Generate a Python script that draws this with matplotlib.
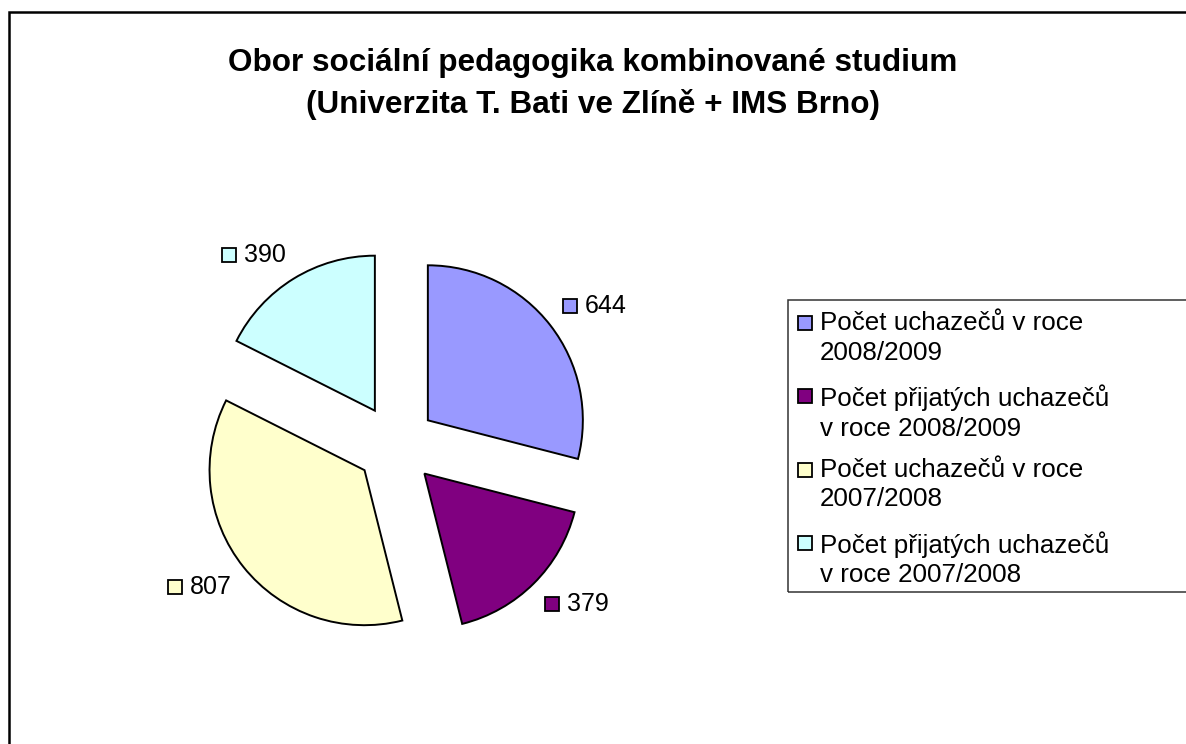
import numpy as np
import matplotlib.pyplot as plt
from matplotlib.patches import Rectangle

plt.rcParams["font.family"] = ["Liberation Sans", "DejaVu Sans"]

# data
values = [644, 379, 807, 390]
series_labels = [
    "Počet uchazečů v roce\n2008/2009",
    "Počet přijatých uchazečů\nv roce 2008/2009",
    "Počet uchazečů v roce\n2007/2008",
    "Počet přijatých uchazečů\nv roce 2007/2008",
]
colors = ["#9999FF", "#800080", "#FFFFCC", "#CCFFFF"]
title = "Obor sociální pedagogika kombinované studium\n(Univerzita T. Bati ve Zlíně + IMS Brno)"

W, H = 1186, 744
fig = plt.figure(figsize=(W / 100, H / 100), dpi=100)


def fx(px):
    return px / W


def fy(py):
    return 1 - py / H


# outer chart border (right/bottom run off the picture)
fig.patches.append(Rectangle((fx(9), -0.1), 1.2, fy(12) + 0.1,
                             transform=fig.transFigure, fill=False,
                             edgecolor="black", linewidth=1.8))

# pie axes: centre ~(396, 445) px, radius ~155 px
cx, cy, r = 396, 445, 155
ext = 1.9
ax = fig.add_axes([fx(cx - ext * r), fy(cy + ext * r),
                   2 * ext * r / W, 2 * ext * r / H])

wedges, _ = ax.pie(values, colors=colors, explode=[0.26] * len(values),
                   startangle=90, counterclock=False, radius=1,
                   wedgeprops=dict(edgecolor="black", linewidth=1.4))
ax.set_xlim(-ext, ext)
ax.set_ylim(-ext, ext)
ax.set_aspect("equal")
ax.axis("off")

# data labels: square + value; the box corner nearest the pie sits on the
# slice's mid-angle ray
renderer = fig.canvas.get_renderer()
px = 1 / r  # one pixel in data units
for w, v, c in zip(wedges, values, colors):
    ang = np.deg2rad((w.theta1 + w.theta2) / 2)
    ax_, ay_ = 1.36 * np.cos(ang), 1.36 * np.sin(ang)
    ymid = ay_ + (10 * px if np.sin(ang) >= 0 else -10 * px)
    if np.cos(ang) >= 0:
        ax.plot(ax_ + 7 * px, ymid, marker="s", markersize=10, markerfacecolor=c,
                markeredgecolor="black", markeredgewidth=1.3, clip_on=False)
        ax.text(ax_ + 22 * px, ymid, str(v), ha="left", va="center",
                fontsize=18, clip_on=False)
    else:
        t = ax.text(ax_, ymid, str(v), ha="right", va="center", fontsize=18,
                    clip_on=False)
        tw = t.get_window_extent(renderer).width * px
        ax.plot(ax_ - tw - 15 * px, ymid, marker="s", markersize=10,
                markerfacecolor=c, markeredgecolor="black",
                markeredgewidth=1.3, clip_on=False)

fig.text(0.5, fy(84), title, ha="center", va="center", fontsize=22.7,
         fontweight="bold", linespacing=1.42)

# legend box (runs off the right edge)
fig.patches.append(Rectangle((fx(788), fy(592)), 0.5, fy(300) - fy(592),
                             transform=fig.transFigure, fill=False,
                             edgecolor="#333333", linewidth=1.1))
for i, (lab, c) in enumerate(zip(series_labels, colors)):
    y0 = 321 + i * 73.3
    fig.patches.append(Rectangle((fx(798), fy(y0 + 9)), 14 / W, 14 / H,
                                 transform=fig.transFigure, facecolor=c,
                                 edgecolor="black", linewidth=1.3))
    fig.text(fx(820), fy(y0 - 10), lab, ha="left", va="top", fontsize=18.7,
             linespacing=1.3)

fig.savefig("out.png", dpi=100)
